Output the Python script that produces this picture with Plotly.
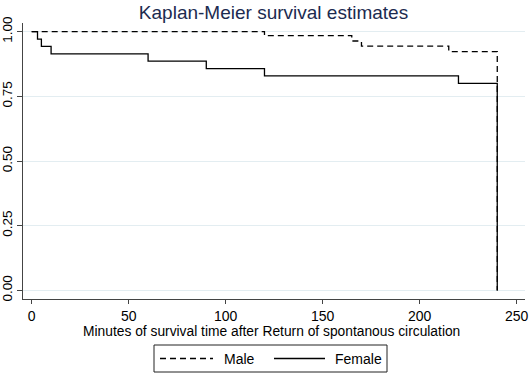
import plotly.graph_objects as go

# Kaplan-Meier step data
male_time = [0, 120, 165, 170, 215, 240]
male_surv = [1.0, 0.985, 0.964, 0.944, 0.923, 0.0]
female_time = [0, 3, 5, 10, 60, 90, 120, 220, 240]
female_surv = [1.0, 0.971, 0.943, 0.914, 0.886, 0.857, 0.829, 0.800, 0.0]

x_ticks = [0, 50, 100, 150, 200, 250]
y_ticks = [0.0, 0.25, 0.5, 0.75, 1.0]
y_tick_labels = ["0.00", "0.25", "0.50", "0.75", "1.00"]

series_names = ["Male", "Female"]
title_text = "Kaplan-Meier survival estimates"
x_title = "Minutes of survival time after Return of spontanous circulation"

FONT = "Liberation Sans, Arial, Helvetica, sans-serif"
W, H = 529, 373
ML, MR, MT, MB = 23, 4, 23, 74
PW, PH = W - ML - MR, H - MT - MB


def px_x(p):
    return (p - ML) / PW


def px_y(p):
    return (H - MB - p) / PH


fig = go.Figure()
fig.add_trace(go.Scatter(
    x=male_time, y=male_surv, mode="lines", name=series_names[0],
    line=dict(color="#000000", width=1.3, dash="6px,4px", shape="hv"),
    showlegend=False,
))
fig.add_trace(go.Scatter(
    x=female_time, y=female_surv, mode="lines", name=series_names[1],
    line=dict(color="#000000", width=1.3, shape="hv"),
    showlegend=False,
))

# Boxed legend below the axis title (Stata style)
box_l, box_r, box_t, box_b = 154, 387, 345, 372
ly = (box_t + box_b) / 2
shapes = [
    dict(type="rect", xref="paper", yref="paper",
         x0=px_x(box_l), x1=px_x(box_r), y0=px_y(box_b), y1=px_y(box_t),
         line=dict(color="#222222", width=1), fillcolor="white", layer="above"),
    dict(type="line", xref="paper", yref="paper",
         x0=px_x(160), x1=px_x(213), y0=px_y(ly), y1=px_y(ly),
         line=dict(color="#000000", width=1.3, dash="6px,4px")),
    dict(type="line", xref="paper", yref="paper",
         x0=px_x(274), x1=px_x(325), y0=px_y(ly), y1=px_y(ly),
         line=dict(color="#000000", width=1.3)),
]
annotations = [
    dict(text=series_names[0], xref="paper", yref="paper", x=px_x(222), y=px_y(ly),
         xanchor="left", yanchor="middle", showarrow=False,
         font=dict(family=FONT, size=14, color="#000000")),
    dict(text=series_names[1], xref="paper", yref="paper", x=px_x(333), y=px_y(ly),
         xanchor="left", yanchor="middle", showarrow=False,
         font=dict(family=FONT, size=14, color="#000000")),
    # x-axis title
    dict(text=x_title, xref="paper", yref="paper", x=px_x(271.5), y=px_y(322),
         xanchor="center", yanchor="top", showarrow=False,
         font=dict(family=FONT, size=13.8, color="#000000")),
]

fig.update_layout(
    width=W, height=H,
    margin=dict(l=ML, r=MR, t=MT, b=MB, autoexpand=False),
    paper_bgcolor="white", plot_bgcolor="white",
    font=dict(family=FONT, size=14, color="#000000"),
    title=dict(text=title_text, x=px_x(273.5), xanchor="center", xref="paper",
               y=1 - 12 / H, yanchor="middle", yref="container",
               font=dict(family=FONT, size=19, color="#1c2b50")),
    showlegend=False,
    shapes=shapes,
    annotations=annotations,
)

fig.update_xaxes(
    range=[-4.48, 254.3], tickvals=x_ticks, ticktext=[str(v) for v in x_ticks],
    showgrid=False, zeroline=False,
    showline=True, linecolor="#444444", linewidth=1.2,
    ticks="outside", ticklen=4, tickcolor="#444444", tickwidth=1.2,
    ticklabelstandoff=0,
    tickfont=dict(family=FONT, size=14, color="#000000"),
)
fig.update_yaxes(
    range=[-0.0332, 1.0336], tickvals=y_ticks, ticktext=y_tick_labels,
    tickangle=-90,
    showgrid=True, gridcolor="#e3edf1", gridwidth=1, zeroline=False,
    showline=True, linecolor="#444444", linewidth=1.2,
    ticks="outside", ticklen=5, tickcolor="#444444", tickwidth=1.2,
    ticklabelstandoff=0,
    tickfont=dict(family=FONT, size=13.5, color="#000000"),
)

fig.write_html("out.html", config={"displayModeBar": False},
               post_script="document.body.style.margin='0px';")
